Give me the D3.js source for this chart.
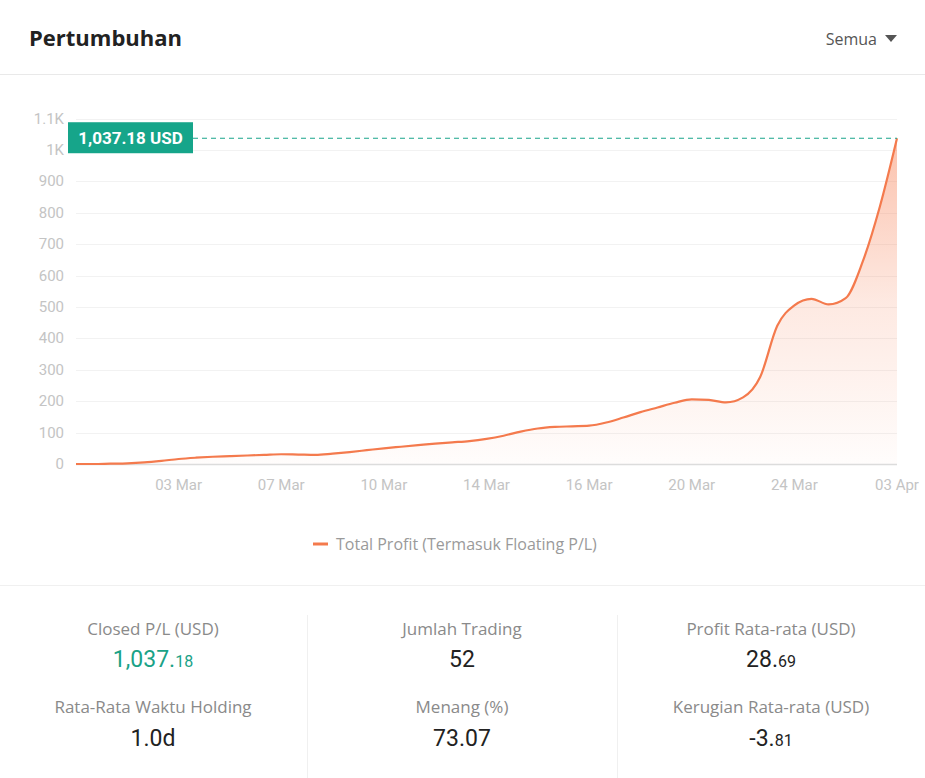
<!DOCTYPE html>
<html lang="id">
<head>
<meta charset="UTF-8" />
<title>Pertumbuhan</title>
<style>
  html, body { margin: 0; padding: 0; background: #fff; }
  svg { display: block; font-family: "Open Sans", "Noto Sans", sans-serif; }
  .grid line { stroke: #f2f2f2; stroke-width: 1px; }
  .yaxis text, .xaxis text { font-family: Roboto, sans-serif; font-size: 15px; fill: #c4c4c4; }
</style>
</head>
<body>
<div id="chart"></div>
<script src="https://cdn.jsdelivr.net/npm/d3@7"></script>
<script>
// profit curve, one value per step (every 6th step carries a date label)
const profit = [
  0, 0, 1, 2, 5, 10, 16, 20, 23, 25, 27, 29, 31,
  30, 29, 33, 38, 44, 50, 55, 60, 65, 69, 73, 80,
  90, 103, 113, 118, 120, 122, 132, 148, 165, 180, 195, 206,
  204, 196, 212, 277, 440, 505, 526, 508, 528, 645, 820, 1037.18
];
const dateLabels = ["03 Mar", "07 Mar", "10 Mar", "14 Mar", "16 Mar", "20 Mar", "24 Mar", "03 Apr"];
const labelEvery = 6;
const yTicks = [0, 100, 200, 300, 400, 500, 600, 700, 800, 900, 1000, 1100];

const statLabels = [
  ["Closed P/L (USD)", "Jumlah Trading", "Profit Rata-rata (USD)"],
  ["Rata-Rata Waktu Holding", "Menang (%)", "Kerugian Rata-rata (USD)"]
];
const statMain = [["1,037.", "52", "28."], ["1.0d", "73.07", "-3."]];
const statDec = [["18", "", "69"], ["", "", "81"]];

const W = 925, H = 778;
const svg = d3.select("#chart").append("svg").attr("width", W).attr("height", H);

// header
svg.append("text").attr("x", 29).attr("y", 46)
  .attr("font-size", 22).attr("font-weight", 700).attr("fill", "#222")
  .text("Pertumbuhan");
svg.append("text").attr("x", 877).attr("y", 45).attr("text-anchor", "end")
  .attr("font-size", 16).attr("fill", "#555").text("Semua");
svg.append("path").attr("d", "M885,35 L897,35 L891,42 Z").attr("fill", "#555");
svg.append("line").attr("x1", 0).attr("x2", W).attr("y1", 74.5).attr("y2", 74.5)
  .attr("stroke", "#e9e9e9");

// scales
const x = d3.scalePoint().domain(d3.range(profit.length)).range([76, 897]);
const y = d3.scaleLinear().domain([0, 1100]).range([464, 118.5]);

// grid
svg.append("g").attr("class", "grid")
  .selectAll("line").data(yTicks.slice(1)).join("line")
  .attr("x1", 76).attr("x2", 897)
  .attr("y1", d => Math.round(y(d)) + 0.5).attr("y2", d => Math.round(y(d)) + 0.5);

// y labels
const fmtY = d => d >= 1000 ? (d / 1000) + "K" : d;
svg.append("g").attr("class", "yaxis")
  .selectAll("text").data(yTicks).join("text")
  .attr("x", 64).attr("y", d => y(d) + 5).attr("text-anchor", "end")
  .text(fmtY);

// area gradient
const defs = svg.append("defs");
const grad = defs.append("linearGradient").attr("id", "fillGrad")
  .attr("x1", 0).attr("y1", 0).attr("x2", 0).attr("y2", 1);
grad.append("stop").attr("offset", "0%").attr("stop-color", "#f7845a").attr("stop-opacity", 0.5);
grad.append("stop").attr("offset", "50%").attr("stop-color", "#f7845a").attr("stop-opacity", 0.18);
grad.append("stop").attr("offset", "100%").attr("stop-color", "#f7845a").attr("stop-opacity", 0.02);

const area = d3.area().x((d, i) => x(i)).y0(y(0)).y1(d => y(d)).curve(d3.curveMonotoneX);
const line = d3.line().x((d, i) => x(i)).y(d => y(d)).curve(d3.curveMonotoneX);

svg.append("path").datum(profit).attr("d", area).attr("fill", "url(#fillGrad)");

// x axis line
svg.append("line").attr("x1", 76).attr("x2", 897).attr("y1", 464.5).attr("y2", 464.5)
  .attr("stroke", "#dcdcdc").attr("stroke-width", 1.5);

svg.append("path").datum(profit).attr("d", line)
  .attr("fill", "none").attr("stroke", "#f47a4d").attr("stroke-width", 2.2);

// x labels
svg.append("g").attr("class", "xaxis")
  .selectAll("text").data(dateLabels).join("text")
  .attr("x", (d, i) => x((i + 1) * labelEvery)).attr("y", 490)
  .attr("text-anchor", "middle").text(d => d);

// last value marker
const last = profit[profit.length - 1];
const ly = y(last);
svg.append("line").attr("x1", 193).attr("x2", 897).attr("y1", ly).attr("y2", ly)
  .attr("stroke", "#1aa58a").attr("stroke-width", 1.2).attr("stroke-dasharray", "5,4");
svg.append("rect").attr("x", 68).attr("y", ly - 16).attr("width", 125).attr("height", 31)
  .attr("fill", "#16a58a");
svg.append("text").attr("x", 130.5).attr("y", ly + 6).attr("text-anchor", "middle")
  .attr("font-family", "Roboto, sans-serif").attr("font-size", 17).attr("font-weight", 700)
  .attr("fill", "#fff").text(d3.format(",.2f")(last) + " USD");

// legend
svg.append("line").attr("x1", 313).attr("x2", 328).attr("y1", 544).attr("y2", 544)
  .attr("stroke", "#f47a4d").attr("stroke-width", 3);
svg.append("text").attr("x", 336).attr("y", 550)
  .attr("font-size", 16).attr("fill", "#9a9a9a")
  .text("Total Profit (Termasuk Floating P/L)");

// stats section
svg.append("line").attr("x1", 0).attr("x2", W).attr("y1", 585.5).attr("y2", 585.5)
  .attr("stroke", "#f0f0f0");
[307.5, 617.5].forEach(vx => {
  svg.append("line").attr("x1", vx).attr("x2", vx).attr("y1", 615).attr("y2", 778)
    .attr("stroke", "#f0f0f0");
});
const colX = [153, 462, 771];
const rowY = [[635, 667], [713, 746]];
statLabels.forEach((row, r) => {
  row.forEach((lab, c) => {
    svg.append("text").attr("x", colX[c]).attr("y", rowY[r][0])
      .attr("text-anchor", "middle").attr("font-size", 17).attr("fill", "#8a8a8a")
      .text(lab);
    const t = svg.append("text").attr("x", colX[c]).attr("y", rowY[r][1])
      .attr("text-anchor", "middle").attr("font-family", "Roboto, sans-serif")
      .attr("font-weight", 400)
      .attr("fill", r === 0 && c === 0 ? "#1aa287" : "#222");
    t.append("tspan").attr("font-size", 23).text(statMain[r][c]);
    if (statDec[r][c]) t.append("tspan").attr("font-size", 16).text(statDec[r][c]);
  });
});
</script>
</body>
</html>
